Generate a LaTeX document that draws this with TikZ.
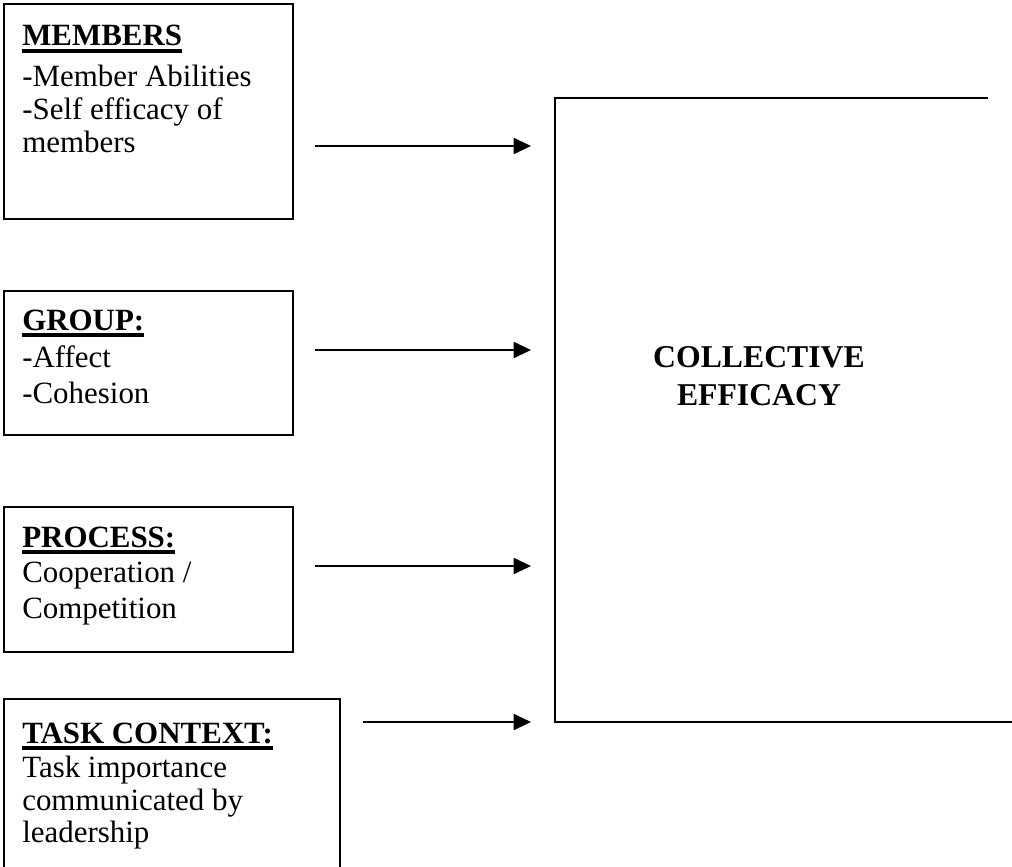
\documentclass[tikz,border=0pt]{standalone}
\usepackage{fontspec}
\setmainfont{Liberation Serif}
\usetikzlibrary{arrows.meta}
\newsavebox\hdbox
\newcommand\ulhead[1]{\sbox\hdbox{\bfseries #1}\rlap{\rule[-5pt]{\wd\hdbox}{2.6pt}}\usebox\hdbox}
\begin{document}
\begin{tikzpicture}[x=0.75pt,y=-0.75pt,
  box/.style={draw,line width=1.4pt,anchor=north west,inner sep=0pt},
  ln/.style={anchor=base west,inner sep=0pt,font=\fontsize{23.2}{27}\selectfont},
  big/.style={anchor=base,inner sep=0pt,font=\fontsize{23.8}{28}\selectfont\bfseries},
  arr/.style={-{Triangle[length=13pt,width=12pt]},line width=1.4pt,shorten >=18pt}]
\useasboundingbox (0,0) rectangle (1012,866);
\clip (0,0) rectangle (1012,866);
% left boxes
\node[box,minimum width=216.75pt,minimum height=161.25pt] (mem) at (3,3) {};
\node[box,minimum width=216.75pt,minimum height=108pt] (grp) at (3,290) {};
\node[box,minimum width=216.75pt,minimum height=108.75pt] (proc) at (3,506) {};
\node[box,minimum width=252pt,minimum height=150pt] (task) at (3,698) {};
% texts
\node[ln] (mem0) at (22,46) {\ulhead{MEMBERS}};
\node[ln] (mem1) at (22,87) {-Member Abilities};
\node[ln] (mem2) at (22,120) {-Self efficacy of};
\node[ln] (mem3) at (22,153) {members};
\node[ln] (grp0) at (22,330) {\ulhead{GROUP:}};
\node[ln] (grp1) at (22,367) {-Affect};
\node[ln] (grp2) at (22,403) {-Cohesion};
\node[ln] (proc0) at (22,547) {\ulhead{PROCESS:}};
\node[ln] (proc1) at (22,582) {Cooperation /};
\node[ln] (proc2) at (22,618) {Competition};
\node[ln] (task0) at (22,743) {\ulhead{TASK CONTEXT:}};
\node[ln] (task1) at (22,777) {Task importance};
\node[ln] (task2) at (22,810) {communicated by};
\node[ln] (task3) at (22,842) {leadership};
% big box (open on the right)
\coordinate (ceTR) at (988,98);
\coordinate (ceTL) at (555,98);
\coordinate (ceBL) at (555,722);
\coordinate (ceBR) at (1020,722);
\draw[line width=1.4pt] (ceTR) -- (ceTL) -- (ceBL) -- (ceBR);
\node[big] (ce1) at (759,367) {COLLECTIVE};
\node[big] (ce2) at (759,405) {EFFICACY};
% arrows
\coordinate (s1) at (315,146);
\coordinate (s2) at (315,350);
\coordinate (s3) at (315,566);
\coordinate (s4) at (363,722);
\draw[arr] (s1) -- (s1 -| ceTL);
\draw[arr] (s2) -- (s2 -| ceTL);
\draw[arr] (s3) -- (s3 -| ceTL);
\draw[arr] (s4) -- (s4 -| ceTL);
\end{tikzpicture}
\end{document}
